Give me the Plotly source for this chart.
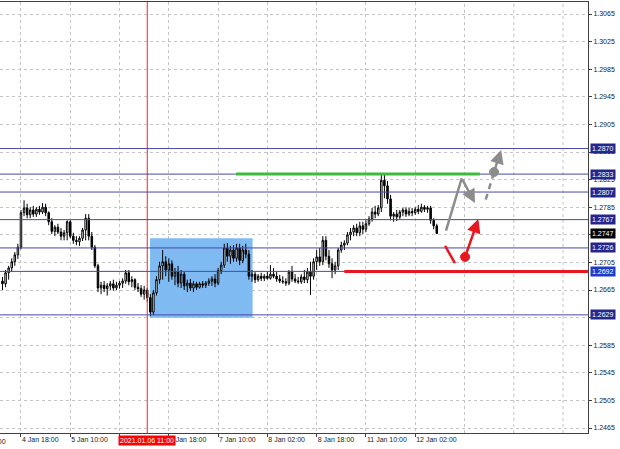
import plotly.graph_objects as go

# ---------------- data (H1 bars, 4 Jan 12:00 .. 12 Jan 09:00) ----------------
bar_index = list(range(142))

opens = [1.2678, 1.2674, 1.2690, 1.2697, 1.2706, 1.2716, 1.2727, 1.2777, 1.2784, 1.2774,
         1.2781, 1.2775, 1.2782, 1.2778, 1.2785, 1.2777, 1.2764, 1.2750, 1.2756, 1.2749,
         1.2743, 1.2748, 1.2764, 1.2743, 1.2737, 1.2735, 1.2740, 1.2752, 1.2769, 1.2743,
         1.2727, 1.2700, 1.2668, 1.2672, 1.2667, 1.2671, 1.2674, 1.2668, 1.2672, 1.2675,
         1.2678, 1.2690, 1.2677, 1.2680, 1.2669, 1.2667, 1.2659, 1.2665, 1.2654, 1.2633,
         1.2661, 1.2680, 1.2700, 1.2706, 1.2694, 1.2703, 1.2685, 1.2691, 1.2675, 1.2688,
         1.2671, 1.2675, 1.2668, 1.2674, 1.2669, 1.2674, 1.2672, 1.2675, 1.2678, 1.2681,
         1.2675, 1.2693, 1.2701, 1.2726, 1.2714, 1.2723, 1.2711, 1.2726, 1.2708, 1.2723,
         1.2717, 1.2685, 1.2688, 1.2680, 1.2685, 1.2682, 1.2685, 1.2682, 1.2688, 1.2685,
         1.2681, 1.2678, 1.2677, 1.2675, 1.2691, 1.2681, 1.2678, 1.2677, 1.2684, 1.2680,
         1.2691, 1.2685, 1.2706, 1.2713, 1.2706, 1.2737, 1.2714, 1.2703, 1.2694, 1.2700,
         1.2723, 1.2730, 1.2733, 1.2745, 1.2749, 1.2755, 1.2748, 1.2758, 1.2753, 1.2761,
         1.2768, 1.2778, 1.2775, 1.2784, 1.2824, 1.2816, 1.2797, 1.2772, 1.2775, 1.2771,
         1.2778, 1.2781, 1.2775, 1.2779, 1.2777, 1.2782, 1.2779, 1.2785, 1.2782, 1.2784,
         1.2766, 1.2758]
highs = [1.2684, 1.2694, 1.2700, 1.2711, 1.2720, 1.2732, 1.2781, 1.2795, 1.2790, 1.2785,
         1.2787, 1.2785, 1.2787, 1.2791, 1.2790, 1.2779, 1.2769, 1.2759, 1.2761, 1.2755,
         1.2752, 1.2766, 1.2766, 1.2748, 1.2743, 1.2743, 1.2755, 1.2775, 1.2775, 1.2749,
         1.2730, 1.2703, 1.2677, 1.2678, 1.2675, 1.2678, 1.2680, 1.2677, 1.2678, 1.2682,
         1.2694, 1.2694, 1.2685, 1.2682, 1.2675, 1.2672, 1.2671, 1.2668, 1.2659, 1.2665,
         1.2685, 1.2706, 1.2723, 1.2714, 1.2711, 1.2708, 1.2697, 1.2700, 1.2694, 1.2691,
         1.2680, 1.2681, 1.2678, 1.2677, 1.2677, 1.2678, 1.2678, 1.2682, 1.2685, 1.2688,
         1.2697, 1.2706, 1.2732, 1.2733, 1.2729, 1.2730, 1.2732, 1.2732, 1.2729, 1.2732,
         1.2723, 1.2694, 1.2691, 1.2688, 1.2690, 1.2688, 1.2691, 1.2701, 1.2697, 1.2691,
         1.2687, 1.2685, 1.2682, 1.2694, 1.2700, 1.2688, 1.2684, 1.2688, 1.2694, 1.2697,
         1.2706, 1.2711, 1.2723, 1.2726, 1.2743, 1.2743, 1.2723, 1.2711, 1.2706, 1.2726,
         1.2735, 1.2737, 1.2749, 1.2755, 1.2759, 1.2761, 1.2764, 1.2764, 1.2766, 1.2772,
         1.2784, 1.2787, 1.2788, 1.2834, 1.2833, 1.2823, 1.2803, 1.2778, 1.2781, 1.2781,
         1.2784, 1.2785, 1.2784, 1.2784, 1.2785, 1.2788, 1.2790, 1.2788, 1.2787, 1.2787,
         1.2769, 1.2761]
lows = [1.2665, 1.2669, 1.2680, 1.2691, 1.2700, 1.2710, 1.2724, 1.2772, 1.2769, 1.2769,
        1.2771, 1.2771, 1.2774, 1.2775, 1.2772, 1.2759, 1.2746, 1.2743, 1.2746, 1.2737,
        1.2737, 1.2737, 1.2740, 1.2732, 1.2730, 1.2729, 1.2736, 1.2737, 1.2737, 1.2723,
        1.2697, 1.2662, 1.2659, 1.2662, 1.2657, 1.2665, 1.2664, 1.2665, 1.2667, 1.2668,
        1.2674, 1.2672, 1.2669, 1.2665, 1.2662, 1.2655, 1.2651, 1.2648, 1.2627, 1.2629,
        1.2657, 1.2674, 1.2680, 1.2685, 1.2677, 1.2680, 1.2672, 1.2669, 1.2668, 1.2665,
        1.2662, 1.2664, 1.2662, 1.2665, 1.2667, 1.2668, 1.2668, 1.2671, 1.2671, 1.2669,
        1.2672, 1.2688, 1.2697, 1.2706, 1.2703, 1.2706, 1.2706, 1.2701, 1.2704, 1.2711,
        1.2680, 1.2677, 1.2675, 1.2677, 1.2678, 1.2678, 1.2680, 1.2680, 1.2682, 1.2677,
        1.2675, 1.2674, 1.2671, 1.2672, 1.2677, 1.2675, 1.2674, 1.2674, 1.2675, 1.2675,
        1.2658, 1.2680, 1.2694, 1.2700, 1.2701, 1.2708, 1.2697, 1.2682, 1.2688, 1.2694,
        1.2719, 1.2723, 1.2730, 1.2737, 1.2743, 1.2743, 1.2743, 1.2746, 1.2749, 1.2758,
        1.2764, 1.2769, 1.2772, 1.2778, 1.2798, 1.2790, 1.2766, 1.2764, 1.2765, 1.2768,
        1.2772, 1.2771, 1.2772, 1.2772, 1.2774, 1.2775, 1.2777, 1.2778, 1.2777, 1.2761,
        1.2753, 1.2746]
closes = [1.2674, 1.2690, 1.2697, 1.2706, 1.2716, 1.2727, 1.2777, 1.2784, 1.2774, 1.2781,
          1.2775, 1.2782, 1.2778, 1.2785, 1.2777, 1.2764, 1.2750, 1.2756, 1.2749, 1.2743,
          1.2748, 1.2764, 1.2743, 1.2737, 1.2735, 1.2740, 1.2752, 1.2769, 1.2743, 1.2727,
          1.2700, 1.2668, 1.2672, 1.2667, 1.2671, 1.2674, 1.2668, 1.2672, 1.2675, 1.2678,
          1.2690, 1.2677, 1.2680, 1.2669, 1.2667, 1.2659, 1.2665, 1.2654, 1.2633, 1.2661,
          1.2680, 1.2700, 1.2706, 1.2694, 1.2703, 1.2685, 1.2691, 1.2675, 1.2688, 1.2671,
          1.2675, 1.2668, 1.2674, 1.2669, 1.2674, 1.2672, 1.2675, 1.2678, 1.2681, 1.2675,
          1.2693, 1.2701, 1.2726, 1.2714, 1.2723, 1.2711, 1.2726, 1.2708, 1.2723, 1.2717,
          1.2685, 1.2688, 1.2680, 1.2685, 1.2682, 1.2685, 1.2682, 1.2688, 1.2685, 1.2681,
          1.2678, 1.2677, 1.2675, 1.2691, 1.2681, 1.2678, 1.2677, 1.2684, 1.2680, 1.2691,
          1.2685, 1.2706, 1.2713, 1.2706, 1.2737, 1.2714, 1.2703, 1.2694, 1.2700, 1.2723,
          1.2730, 1.2733, 1.2745, 1.2749, 1.2755, 1.2748, 1.2758, 1.2753, 1.2761, 1.2768,
          1.2778, 1.2775, 1.2784, 1.2824, 1.2816, 1.2797, 1.2772, 1.2775, 1.2771, 1.2778,
          1.2781, 1.2775, 1.2779, 1.2777, 1.2782, 1.2779, 1.2785, 1.2782, 1.2784, 1.2766,
          1.2758, 1.2747]

x_tick_idx = [6, 22, 38, 54, 70, 86, 102, 118, 134]
# "6 Jan 02:00" sits entirely under the red time-marker label in the reference
x_tick_text = ["4 Jan 18:00", "5 Jan 10:00", "", "6 Jan 18:00", "7 Jan 10:00",
               "8 Jan 02:00", "8 Jan 18:00", "11 Jan 10:00", "12 Jan 02:00"]
future_grid_idx = [150, 166, 182]
y_ticks = [1.2465, 1.2505, 1.2545, 1.2585, 1.2625, 1.2665, 1.2705, 1.2745,
           1.2785, 1.2825, 1.2865, 1.2905, 1.2945, 1.2985, 1.3025, 1.3065]
# 1.2625 and 1.2745 are fully hidden behind the object price labels in the reference
y_tick_text = ["1.2465", "1.2505", "1.2545", "1.2585", "", "1.2665", "1.2705", "",
               "1.2785", "1.2825", "1.2865", "1.2905", "1.2945", "1.2985", "1.3025", "1.3065"]

levels = [1.2870, 1.2833, 1.2807, 1.2767, 1.2726, 1.2692, 1.2629]
current_price = 1.2747
marker_bar = 47           # 2021.01.06 11:00
marker_text = "2021.01.06 11:00"
left_cut_label = "4 Jan 02:00"

# zone / drawings (bar index, price)
zone = dict(x0=47.9, x1=81.2, y0=1.2625, y1=1.2740)
green_level = dict(x0=75.8, x1=155.0, y=1.2833)
red_level = dict(x0=111.0, y=1.2692)
gray_path = [(144.0, 1.2751), (149.1, 1.2827), (153.4, 1.2791)]
gray_dash = [(156.9, 1.2796), (161.9, 1.2868)]
gray_dot = (159.6, 1.2836)
red_stroke = [(143.7, 1.2729), (146.9, 1.2704)]
red_dot = (150.2, 1.2713)
red_arrow_end = (154.5, 1.2768)

# ---------------- styles ----------------
NAVY_LINE = "#4848a4"
NAVY_BOX = "#25258c"
GRID = "#c4c4c4"
AX = "#404040"
GRAY = "#8c8c8c"
RED = "#e8161e"
GREEN = "#3dbb3d"
FONT = "Liberation Sans, Arial, sans-serif"

fig = go.Figure()
fig.add_trace(go.Candlestick(
    x=bar_index, open=opens, high=highs, low=lows, close=closes,
    increasing=dict(line=dict(color="black", width=1), fillcolor="white"),
    decreasing=dict(line=dict(color="black", width=1), fillcolor="black"),
    whiskerwidth=0, hoverinfo="skip", showlegend=False))

shapes = []
for g in future_grid_idx:
    shapes.append(dict(type="line", xref="x", yref="paper", x0=g, x1=g, y0=0, y1=1,
                       line=dict(color=GRID, width=1, dash="dot"), layer="below"))
shapes.append(dict(type="rect", xref="x", yref="y", x0=zone["x0"], x1=zone["x1"],
                   y0=zone["y0"], y1=zone["y1"], fillcolor="#7fbaf3",
                   line=dict(width=0), layer="between"))
shapes.append(dict(type="line", xref="x", yref="paper", x0=marker_bar, x1=marker_bar,
                   y0=0, y1=1, line=dict(color="#ff2020", width=1), layer="above"))
for lv in levels:
    shapes.append(dict(type="line", xref="paper", yref="y", x0=0, x1=1, y0=lv, y1=lv,
                       line=dict(color=NAVY_LINE, width=1), layer="above"))
shapes.append(dict(type="line", xref="x", yref="y", x0=green_level["x0"], x1=green_level["x1"],
                   y0=green_level["y"], y1=green_level["y"], line=dict(color=GREEN, width=3),
                   layer="above"))
shapes.append(dict(type="line", xref="x", yref="y", x0=red_level["x0"], x1=190.1,
                   y0=red_level["y"], y1=red_level["y"], line=dict(color=RED, width=3),
                   layer="above"))
shapes.append(dict(type="line", xref="x", yref="y", x0=gray_path[0][0], y0=gray_path[0][1],
                   x1=gray_path[1][0], y1=gray_path[1][1], line=dict(color=GRAY, width=2.5),
                   layer="above"))
shapes.append(dict(type="line", xref="x", yref="y", x0=gray_dash[0][0], y0=gray_dash[0][1],
                   x1=gray_dash[1][0] - 1.0, y1=gray_dash[1][1] - 0.0013,
                   line=dict(color=GRAY, width=2.5, dash="6px,5px"), layer="above"))
shapes.append(dict(type="line", xref="x", yref="y", x0=red_stroke[0][0], y0=red_stroke[0][1],
                   x1=red_stroke[1][0], y1=red_stroke[1][1], line=dict(color=RED, width=2.5),
                   layer="above"))
for (cx, cy), col in [(gray_dot, GRAY), (red_dot, RED)]:
    shapes.append(dict(type="circle", xref="x", yref="y", xsizemode="pixel", ysizemode="pixel",
                       xanchor=cx, yanchor=cy, x0=-4.5, x1=4.5, y0=-4.5, y1=4.5,
                       fillcolor=col, line=dict(color=col, width=1), layer="above"))

annotations = []
# arrows
annotations.append(dict(x=gray_path[2][0], y=gray_path[2][1], ax=gray_path[1][0], ay=gray_path[1][1],
                        xref="x", yref="y", axref="x", ayref="y", text="", showarrow=True,
                        arrowhead=2, arrowsize=1.1, arrowwidth=2.5, arrowcolor=GRAY))
annotations.append(dict(x=gray_dash[1][0], y=gray_dash[1][1], ax=gray_dash[1][0] - 1.0,
                        ay=gray_dash[1][1] - 0.0014,
                        xref="x", yref="y", axref="x", ayref="y", text="", showarrow=True,
                        arrowhead=2, arrowsize=1.1, arrowwidth=2.5, arrowcolor=GRAY))
annotations.append(dict(x=red_arrow_end[0], y=red_arrow_end[1], ax=red_dot[0], ay=red_dot[1],
                        xref="x", yref="y", axref="x", ayref="y", text="", showarrow=True,
                        arrowhead=2, arrowsize=1.1, arrowwidth=2.5, arrowcolor=RED))

# price labels on the right
box_colors = {1.2692: "#1f3cc8"}
for lv in levels:
    annotations.append(dict(xref="paper", yref="y", x=1, y=lv, xanchor="left", yanchor="middle",
                            xshift=2, text=f"{lv:.4f}", showarrow=False,
                            bgcolor=box_colors.get(lv, NAVY_BOX), borderpad=1,
                            font=dict(color="white", size=7, family=FONT)))
annotations.append(dict(xref="paper", yref="y", x=1, y=current_price, xanchor="left",
                        yanchor="middle", xshift=2, text=f"{current_price:.4f}", showarrow=False,
                        bgcolor="black", borderpad=1, font=dict(color="white", size=7, family=FONT)))
# time marker label
annotations.append(dict(xref="x", yref="paper", x=marker_bar, y=0, yanchor="top", yshift=-2,
                        text=marker_text, showarrow=False, bgcolor="#ff0000", borderpad=1,
                        font=dict(color="white", size=7, family=FONT)))
# partially cut first label at left edge
annotations.append(dict(xref="paper", yref="paper", x=8 / 588, y=0, xanchor="right",
                        yanchor="top", yshift=-3, text=left_cut_label, showarrow=False,
                        font=dict(color="#1a1a1a", size=7, family=FONT)))

fig.update_layout(
    width=620, height=449, margin=dict(l=0, r=32, t=2, b=16, autoexpand=False),
    paper_bgcolor="white", plot_bgcolor="white", showlegend=False,
    font=dict(family=FONT, size=7, color="#1a1a1a"),
    shapes=shapes, annotations=annotations, hovermode=False,
)
fig.update_xaxes(
    range=[-0.81, 190.1], rangeslider_visible=False, tickmode="array", automargin=False,
    tickvals=x_tick_idx, ticktext=x_tick_text, ticks="outside", ticklen=3, tickcolor=AX,
    showline=True, linecolor=AX, linewidth=1, mirror=True, showgrid=True, gridcolor=GRID,
    griddash="dot", ticklabelposition="outside right", tickangle=0, zeroline=False,
    tickfont=dict(size=7, family=FONT, color="#1a1a1a"),
)
fig.update_yaxes(
    side="right", range=[1.24578, 1.30824], tickmode="array", tickvals=y_ticks,
    automargin=False,
    ticktext=y_tick_text, ticks="outside", ticklen=3, tickcolor=AX, showline=True,
    linecolor=AX, linewidth=1, showgrid=True, gridcolor=GRID, griddash="dot", zeroline=False,
    tickfont=dict(size=7, family=FONT, color="#1a1a1a"),
)

fig.write_html(
    "out.html",
    config={"displayModeBar": False, "staticPlot": True},
    post_script="document.body.style.margin='0';document.body.style.padding='0';document.body.style.overflow='hidden';",
)
